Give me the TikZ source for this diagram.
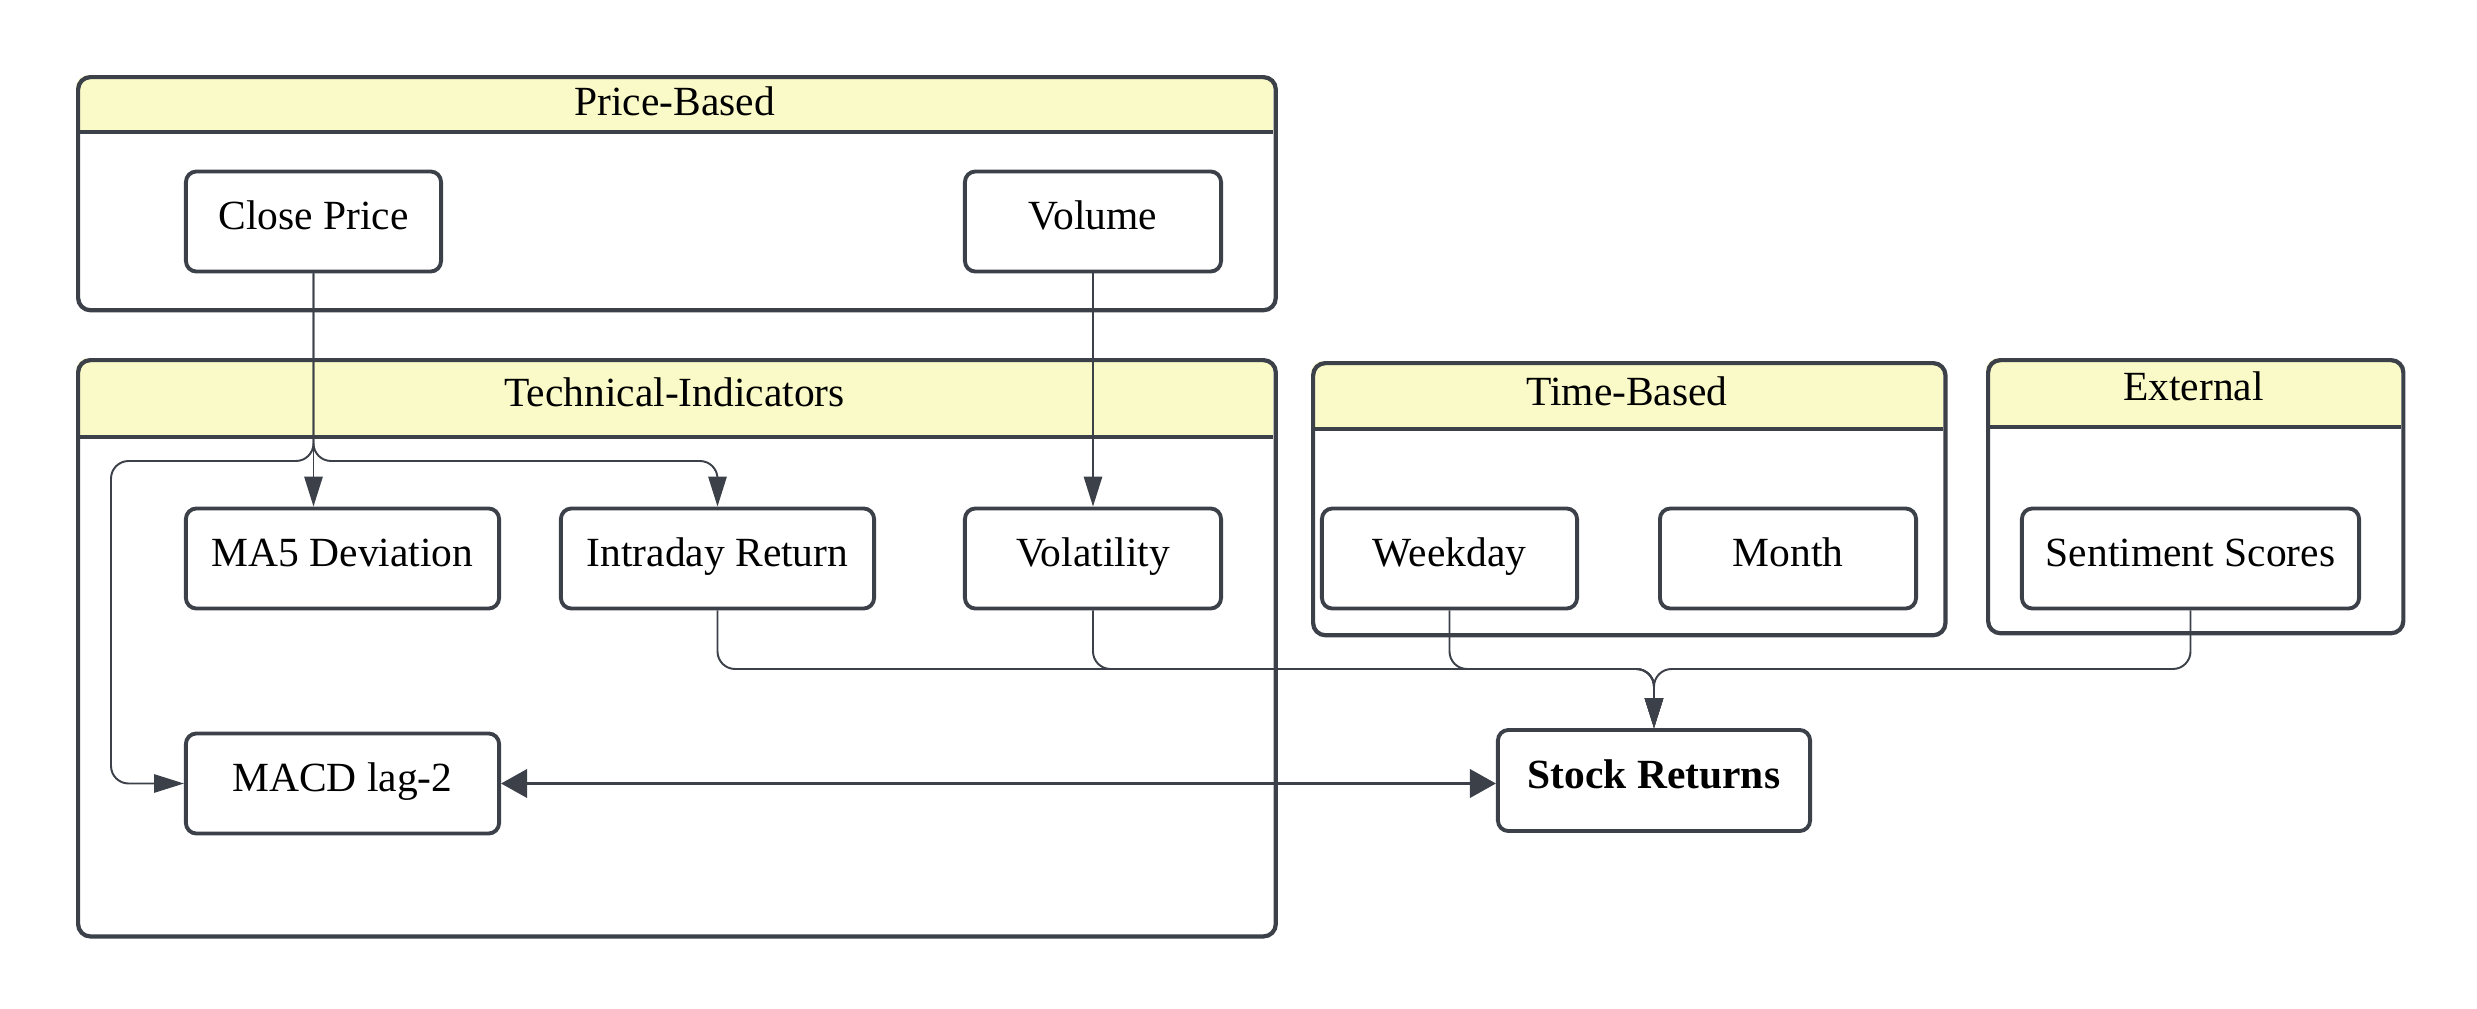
\documentclass[tikz,border=0pt]{standalone}
\usepackage{fontspec}
\setmainfont{Liberation Serif}
\usetikzlibrary{arrows.meta}
\definecolor{ln}{HTML}{3B4049}
\definecolor{hdr}{HTML}{FAFAC8}
\begin{document}
\begin{tikzpicture}[x=0.01cm,y=-0.01cm,
  txt/.style={font=\fontsize{11.8}{14}\selectfont},
  box/.style={txt, draw=ln, line width=1.1pt, rounded corners=3pt, fill=white, inner sep=0pt, minimum height=1.0cm, text height=8pt, text depth=3.5pt},
  frame/.style={draw=ln, line width=1.2pt, rounded corners=3.5pt, inner sep=0pt, anchor=north west},
  hline/.style={draw=ln, line width=1.2pt},
  title/.style={txt, inner sep=0pt, text height=8pt, text depth=3.5pt},
  conn/.style={draw=ln, line width=0.55pt, rounded corners=5pt},
  arr/.style={conn, -{Triangle[length=8.5pt,width=5.2pt]}},
  biarr/.style={draw=ln, line width=1pt, {Triangle[length=7.4pt,width=8pt]}-{Triangle[length=7.4pt,width=8pt]}}
]
\useasboundingbox (0,0) rectangle (2477,1009);

% ---- Price-Based ----
\begin{scope}\clip (76,75) rectangle (1273,132);
\fill[hdr, rounded corners=3.5pt] (76,75) rectangle (1273,180);\end{scope}
\draw[hline] (76,132) -- (1273,132);
\node[frame, minimum width=11.97cm, minimum height=2.33cm] (pbg) at (76,75) {};
\node[title] (pbt) at (674.5,108) {Price-Based};

% ---- Technical-Indicators ----
\begin{scope}\clip (76,358) rectangle (1273,437);
\fill[hdr, rounded corners=3.5pt] (76,358) rectangle (1273,480);\end{scope}
\draw[hline] (76,437) -- (1273,437);
\node[frame, minimum width=11.97cm, minimum height=5.76cm] (tig) at (76,358) {};
\node[title] (tit) at (674.5,399) {Technical-Indicators};

% ---- Time-Based ----
\begin{scope}\clip (1311,361) rectangle (1943,429);
\fill[hdr, rounded corners=3.5pt] (1311,361) rectangle (1943,470);\end{scope}
\draw[hline] (1311,429) -- (1943,429);
\node[frame, minimum width=6.32cm, minimum height=2.72cm] (tbg) at (1311,361) {};
\node[title] (tbt) at (1627,398) {Time-Based};

% ---- External ----
\begin{scope}\clip (1986,358) rectangle (2401,427);
\fill[hdr, rounded corners=3.5pt] (1986,358) rectangle (2401,470);\end{scope}
\draw[hline] (1986,427) -- (2401,427);
\node[frame, minimum width=4.15cm, minimum height=2.73cm] (exg) at (1986,358) {};
\node[title] (ext) at (2193.5,393) {External};

% ---- nodes ----
\node[box, minimum width=2.55cm] (cp) at (313.5,221.5) {Close Price};
\node[box, minimum width=2.56cm] (vol) at (1093,221.5) {Volume};
\node[box, minimum width=3.13cm] (ma5) at (342.5,558.5) {MA5 Deviation};
\node[box, minimum width=3.13cm] (ir) at (717.5,558.5) {Intraday Return};
\node[box, minimum width=2.56cm] (vola) at (1093,558.5) {Volatility};
\node[box, minimum width=3.13cm] (macd) at (342.5,783.5) {MACD lag-2};
\node[box, minimum width=3.12cm, minimum height=1.01cm, font=\fontsize{11.8}{14}\selectfont\bfseries] (sr) at (1654,780.5) {Stock Returns};
\node[box, minimum width=2.55cm] (wd) at (1449.5,558.5) {Weekday};
\node[box, minimum width=2.56cm] (mo) at (1788,558.5) {Month};
\node[box, minimum width=3.37cm] (se) at (2190.5,558.5) {Sentiment Scores};

% ---- connectors ----
\coordinate (lb) at (111,461);
\coordinate (m) at (1654,669);
\draw[arr] (cp.south) -- (cp.south |- ma5.north);
\draw[arr] (cp.south) |- (lb) |- (macd.west);
\draw[arr] (cp.south) |- (ir.north |- lb) -- (ir.north);
\draw[arr] (vol.south) -- (vola.north);
\draw[arr] (ir.south) |- (m) -- (sr.north);
\draw[arr] (vola.south) |- (m) -- (sr.north);
\draw[arr] (wd.south) |- (m) -- (sr.north);
\draw[arr] (se.south) |- (m) -- (sr.north);
\draw[biarr] (macd.east) -- (macd.east -| sr.west);
\end{tikzpicture}
\end{document}
